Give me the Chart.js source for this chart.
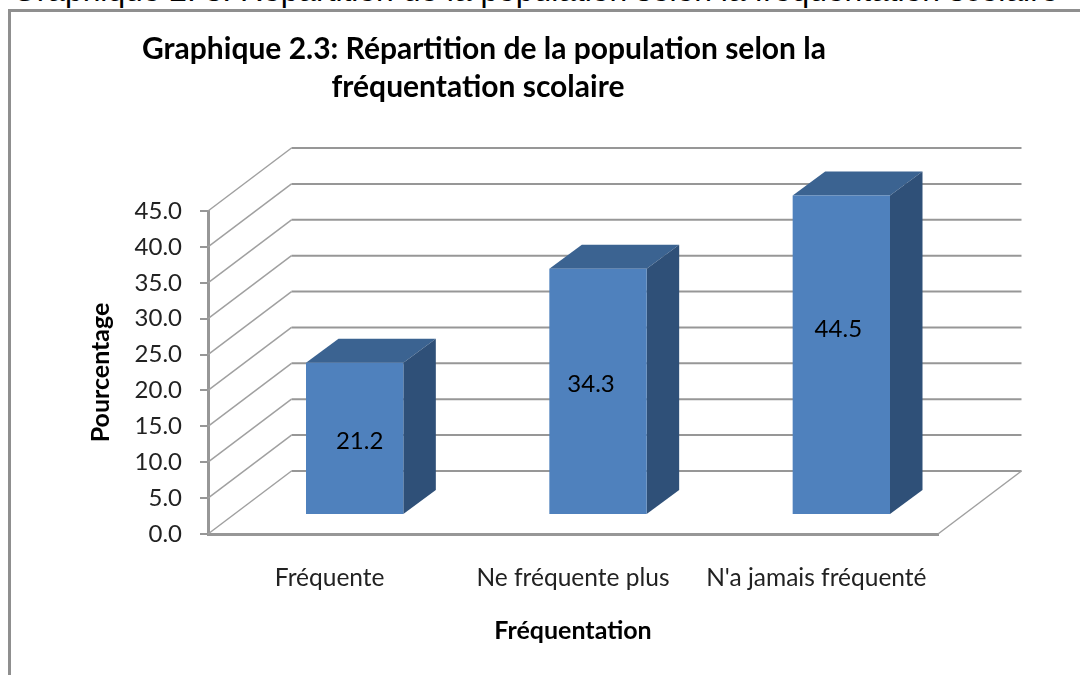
<!DOCTYPE html>
<html lang="fr">
<head>
<meta charset="utf-8">
<title>Graphique 2.3</title>
<script src="https://cdn.jsdelivr.net/npm/chart.js@4"></script>
<style>
	html, body { margin: 0; padding: 0; background: #fff; }
	body { width: 1080px; height: 675px; overflow: hidden; position: relative; }
	#heading { position: absolute; left: 12px; top: -28px; font: 31.8px "Liberation Sans", Arial, sans-serif; color: #000; white-space: nowrap; }
	#frame { position: absolute; left: 8px; top: 9px; width: 1200px; height: 800px; border: 3px solid #8f8f8f; }
	#chart { position: absolute; left: 0; top: 0; filter: blur(0.4px); }
</style>
</head>
<body>
<div id="heading">Graphique 2. 3: Répartition de la population selon la fréquentation scolaire</div>
<div id="frame"></div>
<canvas id="chart" width="1080" height="675"></canvas>
<script>
const categories = ["Fréquente", "Ne fréquente plus", "N'a jamais fréquenté"];
const values = [21.2, 34.3, 44.5];
const titleLines = ["Graphique 2.3: Répartition de la population selon la", "fréquentation scolaire"];
const yAxisTitle = "Pourcentage";
const xAxisTitle = "Fréquentation";

const FONT = 'Lato, "Open Sans", sans-serif';
const GRID = "#979797";
const wallDepth = { x: 83.5, y: -63 };	// back wall, relative to the front plane
const barShift = { x: 25, y: -19 };		// bars stand a bit inside the floor
const barDepth = { x: 32.5, y: -24 };
const labelNudge = [[5, 3], [-7, -7], [-3, -26]];	// value labels sit off centre in the bars

// walls and floor behind the bars
const wallPlugin = {
	id: "wall",
	beforeDatasetsDraw(chart) {
		const { ctx, scales: { x, y } } = chart;
		ctx.save();
		y.ticks.forEach(t => {
			const py = y.getPixelForValue(t.value);
			ctx.strokeStyle = "#a0a0a0";
			ctx.lineWidth = 1.5;
			ctx.beginPath();
			ctx.moveTo(x.left, py);
			ctx.lineTo(x.left + wallDepth.x, py + wallDepth.y);
			ctx.stroke();
			ctx.strokeStyle = GRID;
			ctx.lineWidth = 2;
			ctx.beginPath();
			ctx.moveTo(x.left + wallDepth.x, py + wallDepth.y);
			ctx.lineTo(x.right + wallDepth.x, py + wallDepth.y);
			ctx.stroke();
		});
		// right edge of the floor
		const py0 = y.getPixelForValue(0);
		ctx.strokeStyle = "#a0a0a0";
		ctx.lineWidth = 1.5;
		ctx.beginPath();
		ctx.moveTo(x.right, py0);
		ctx.lineTo(x.right + wallDepth.x, py0 + wallDepth.y);
		ctx.stroke();
		ctx.restore();
	}
};

// moves the bars onto the floor and gives them a top and a side
const boxPlugin = {
	id: "box",
	beforeDatasetDraw(chart, args) {
		const { ctx } = chart;
		ctx.save();
		ctx.translate(barShift.x, barShift.y);
		args.meta.data.forEach(bar => {
			const l = bar.x - bar.width / 2, r = bar.x + bar.width / 2;
			ctx.fillStyle = "#3b6391";
			ctx.beginPath();
			ctx.moveTo(l, bar.y);
			ctx.lineTo(l + barDepth.x, bar.y + barDepth.y);
			ctx.lineTo(r + barDepth.x, bar.y + barDepth.y);
			ctx.lineTo(r, bar.y);
			ctx.closePath();
			ctx.fill();
			ctx.fillStyle = "#2f5078";
			ctx.beginPath();
			ctx.moveTo(r, bar.y);
			ctx.lineTo(r + barDepth.x, bar.y + barDepth.y);
			ctx.lineTo(r + barDepth.x, bar.base + barDepth.y);
			ctx.lineTo(r, bar.base);
			ctx.closePath();
			ctx.fill();
		});
	},
	afterDatasetDraw(chart, args) {
		const { ctx } = chart;
		ctx.fillStyle = "#000";
		ctx.font = "24px " + FONT;
		ctx.textAlign = "center";
		ctx.textBaseline = "middle";
		args.meta.data.forEach((bar, i) => {
			ctx.fillText(values[i].toFixed(1), bar.x + labelNudge[i][0], (bar.y + bar.base) / 2 + labelNudge[i][1]);
		});
		ctx.restore();
	}
};

// the two title lines are not centred on the plot, so they are set by hand
const titlePlugin = {
	id: "twoLineTitle",
	afterDraw(chart) {
		const { ctx } = chart;
		ctx.save();
		ctx.fillStyle = "#000";
		ctx.font = "bold 30px " + FONT;
		ctx.textAlign = "center";
		ctx.fillText(titleLines[0], 484, 59);
		ctx.fillText(titleLines[1], 478, 97);
		ctx.restore();
	}
};

new Chart(document.getElementById("chart"), {
	type: "bar",
	data: {
		labels: categories,
		datasets: [{
			data: values,
			backgroundColor: "#4f81bd",
			barPercentage: 0.4,
			categoryPercentage: 1,
			clip: false
		}]
	},
	options: {
		responsive: false,
		animation: false,
		layout: { padding: { top: 211, right: 142, left: 0, bottom: 0 } },
		plugins: {
			legend: { display: false },
			title: { display: false },
			tooltip: { enabled: false }
		},
		scales: {
			x: {
				afterFit(s) { s.height = 141; },
				grid: { display: false },
				border: { display: true, color: GRID, width: 3 },
				ticks: { color: "#222", font: { family: FONT, size: 24.5 }, padding: 21, maxRotation: 0, autoSkip: false },
				title: { display: true, text: xAxisTitle, color: "#000", font: { family: FONT, size: 25, weight: "bold" }, padding: { top: 0, bottom: 29 } }
			},
			y: {
				min: 0,
				max: 45,
				afterFit(s) { s.width = 208; },
				grid: { drawOnChartArea: false, drawTicks: true, tickLength: 8, color: GRID, lineWidth: 2 },
				border: { display: true, color: GRID, width: 3 },
				ticks: { stepSize: 5, color: "#222", font: { family: FONT, size: 24 }, padding: 18, callback: v => v.toFixed(1) },
				title: { display: true, text: yAxisTitle, color: "#000", font: { family: FONT, size: 25, weight: "bold" }, padding: { top: 86, bottom: 0 } }
			}
		}
	},
	plugins: [wallPlugin, boxPlugin, titlePlugin]
});
</script>
</body>
</html>
